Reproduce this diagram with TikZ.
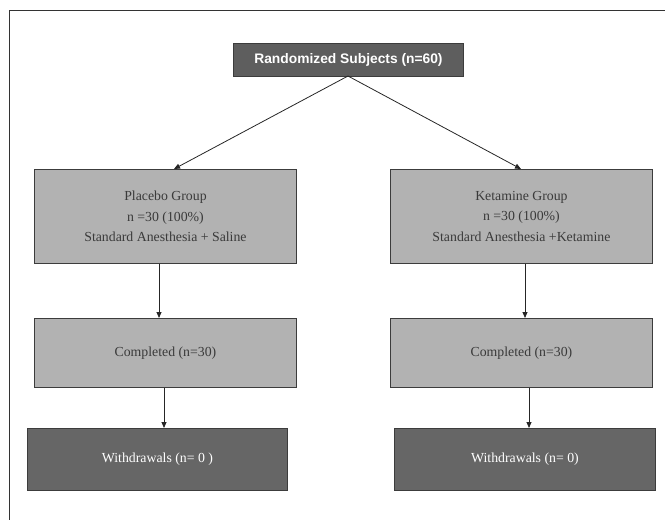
\documentclass[tikz,border=0pt]{standalone}
\usepackage{fontspec}
\setmainfont{Liberation Serif}
\newfontfamily\arialfont{Liberation Sans}
\usetikzlibrary{arrows.meta}
\definecolor{darkbox}{HTML}{666666}
\definecolor{topbox}{HTML}{5E5E5E}
\definecolor{lightbox}{HTML}{B2B2B2}
\definecolor{edgecol}{HTML}{3C3C3C}
\definecolor{txtdark}{HTML}{3A3A3A}
\begin{document}
\begin{tikzpicture}[x=1pt,y=-1pt,
  boxbase/.style={draw=edgecol, line width=0.9pt, inner sep=0pt, anchor=north west},
  lightstyle/.style={boxbase, fill=lightbox, text=txtdark, font=\fontsize{13.8}{20.5}\selectfont, align=center},
  darkstyle/.style={boxbase, fill=darkbox, text=white, font=\fontsize{13.8}{20.5}\selectfont, align=center},
  topstyle/.style={boxbase, fill=topbox, text=white, font=\arialfont\bfseries\fontsize{13.8}{16}\selectfont, align=center},
  conn/.style={draw=black!85, line width=0.8pt, -{Triangle[length=6pt,width=5pt]}}]
\useasboundingbox (0,0) rectangle (665,520);
\draw[line width=1pt, black!80] (9,520) -- (9,10) -- (665,10);
\node[topstyle, minimum width=230pt, minimum height=33pt] (top) at (233,43) {Randomized Subjects (n=60)};
\node[lightstyle, minimum width=262pt, minimum height=94pt] (plac) at (34,169) {Placebo Group\\n =30 (100\%)\\Standard Anesthesia + Saline};
\node[lightstyle, minimum width=262pt, minimum height=94pt] (keta) at (390,169) {Ketamine Group\\n =30 (100\%)\\Standard Anesthesia +Ketamine};
\node[lightstyle, minimum width=262pt, minimum height=69pt] (compl) at (34,318) {Completed (n=30)};
\node[lightstyle, minimum width=262pt, minimum height=69pt] (compr) at (390,318) {Completed (n=30)};
\node[darkstyle, minimum width=260pt, minimum height=62pt] (withl) at (27,428) {Withdrawals (n= 0 )};
\node[darkstyle, minimum width=261pt, minimum height=62pt] (withr) at (394,428) {Withdrawals (n= 0)};
\coordinate (ts) at (348,76);
\draw[conn] (ts) -- (plac.north west -| 174,169);
\draw[conn] (ts) -- (keta.north west -| 521,169);
\draw[conn] (plac.south west -| 159,263) -- (compl.north west -| 159,318);
\draw[conn] (keta.south west -| 525,263) -- (compr.north west -| 525,318);
\draw[conn] (compl.south west -| 164,387) -- (withl.north west -| 164,428);
\draw[conn] (compr.south west -| 529,387) -- (withr.north west -| 529,428);
\end{tikzpicture}
\end{document}
